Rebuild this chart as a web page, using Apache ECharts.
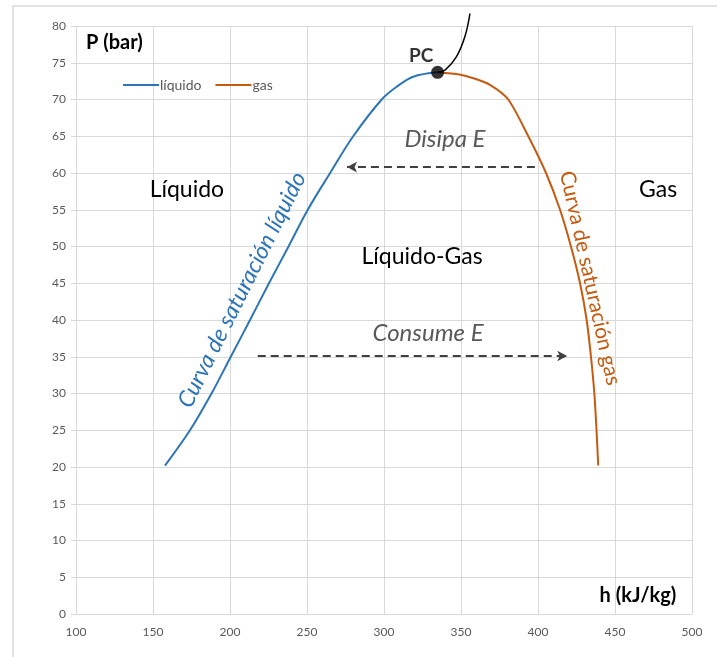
<!DOCTYPE html>
<html>
<head>
<meta charset="utf-8">
<script src="https://cdn.jsdelivr.net/npm/echarts@6/dist/echarts.min.js"></script>
<style>
  html, body { margin: 0; padding: 0; background: #fff; }
  #chart { width: 717px; height: 657px; }
</style>
</head>
<body>
<div id="chart"></div>
<script>
// Saturation dome of a refrigerant on the P-h diagram
const xTicks = [100, 150, 200, 250, 300, 350, 400, 450, 500];
const yTicks = [0, 5, 10, 15, 20, 25, 30, 35, 40, 45, 50, 55, 60, 65, 70, 75, 80];

// Saturated liquid line: [h (kJ/kg), P (bar)]
const liquidCurve = [
  [157.8, 20.2], [174, 25], [188, 30], [200.5, 35], [213, 40], [225.3, 45],
  [238, 50], [250.5, 55], [265, 60], [280, 65], [298.5, 70],
  [308, 71.7], [319, 73.1], [334.8, 73.7]
];

// Saturated vapour line: [h (kJ/kg), P (bar)]
const gasCurve = [
  [334.8, 73.7], [349, 73.4], [358, 72.9], [368.8, 72], [380.7, 70],
  [393.7, 65], [405.2, 60], [414.3, 55], [421.4, 50], [427.3, 45],
  [431.6, 40], [434.4, 35], [436.6, 30], [438, 25], [439.1, 20.2]
];

// Line leaving the critical point upwards
const criticalLine = [[334.8, 73.7], [339.6, 74.0], [347, 75.8], [352.6, 78.6], [355.8, 81.7]];

const criticalPoint = [334.8, 73.7];

// Energy arrows: [start, end]
const dissipateArrow = [[398, 60.8], [276, 60.8]];
const consumeArrow = [[218, 35.1], [419, 35.1]];

const FONT = 'Lato, "Open Sans", sans-serif';
const BLUE = '#2e75b6';
const ORANGE = '#c55a11';
const GRID = '#d9d9d9';
const LABEL = '#595959';

const chart = echarts.init(document.getElementById('chart'), null, { renderer: 'canvas' });

const arrowLine = (pts) => ({
  silent: true,
  symbol: ['none', 'arrow'],
  symbolSize: [8, 10],
  label: { show: false },
  lineStyle: { color: '#404040', width: 2, type: [8, 5] },
  data: [[{ coord: pts[0] }, { coord: pts[1] }]]
});

chart.setOption({
  animation: false,
  backgroundColor: '#fff',
  grid: { left: 76, right: 25, top: 26, bottom: 43 },
  legend: {
    left: 118, top: 73,
    itemWidth: 36, itemHeight: 2, itemGap: 14,
    icon: 'rect',
    textStyle: { fontFamily: FONT, fontSize: 14, color: LABEL, padding: [0, 0, 0, -4] },
    data: ['líquido', 'gas']
  },
  xAxis: {
    type: 'value', min: 100, max: 500, interval: 50,
    axisLine: { show: true, lineStyle: { color: GRID } },
    axisTick: { show: false },
    axisLabel: { color: LABEL, fontFamily: FONT, fontSize: 12, margin: 12 },
    splitLine: { show: true, lineStyle: { color: GRID, width: 1 } }
  },
  yAxis: {
    type: 'value', min: 0, max: 80, interval: 5,
    axisLine: { show: true, lineStyle: { color: GRID } },
    axisTick: { show: true, length: 5, lineStyle: { color: GRID } },
    axisLabel: { color: LABEL, fontFamily: FONT, fontSize: 12, margin: 10 },
    splitLine: { show: true, lineStyle: { color: GRID, width: 1 } }
  },
  series: [
    {
      name: 'líquido', type: 'line', data: liquidCurve, smooth: 0.35,
      showSymbol: false, color: BLUE, lineStyle: { width: 2, color: BLUE },
      markLine: arrowLine(consumeArrow)
    },
    {
      name: 'gas', type: 'line', data: gasCurve, smooth: 0.25,
      showSymbol: false, color: ORANGE, lineStyle: { width: 2, color: ORANGE },
      markLine: arrowLine(dissipateArrow)
    },
    {
      name: 'crítica', type: 'line', data: criticalLine, smooth: 0.4, clip: false,
      showSymbol: false, lineStyle: { width: 1.5, color: '#000' }, z: 3
    },
    {
      name: 'PC', type: 'scatter', data: [criticalPoint], symbolSize: 13, z: 5,
      itemStyle: { color: '#000' },
      label: {
        show: true, formatter: 'PC', position: [-22, -19],
        fontFamily: FONT, fontWeight: 'bold', fontSize: 19, color: '#000'
      }
    }
  ]
});

// Region names and curve captions placed in data coordinates
const px = (h, p) => chart.convertToPixel({ gridIndex: 0 }, [h, p]);
const txt = (pos, text, style, extra) => Object.assign({
  type: 'text', x: pos[0], y: pos[1],
  style: Object.assign({ text, fontFamily: FONT, align: 'center', verticalAlign: 'middle' }, style),
  silent: true
}, extra || {});

const annotations = [
  txt(px(172, 57.7), 'Líquido', { fontSize: 23, fill: '#000' }),
  txt(px(478, 57.7), 'Gas', { fontSize: 23, fill: '#000' }),
  txt(px(324.7, 48.6), 'Líquido-Gas', { fontSize: 23, fill: '#000' }),
  txt(px(339.6, 64.6), 'Disipa E', { fontSize: 24, fontStyle: 'italic', fill: LABEL }),
  txt(px(328.6, 38.2), 'Consume E', { fontSize: 24, fontStyle: 'italic', fill: LABEL }),
  txt(px(207.8, 44.1), 'Curva de saturación líquido',
      { fontSize: 23, fontStyle: 'italic', fill: BLUE }, { rotation: 63.5 * Math.PI / 180 }),
  txt(px(433.8, 45.7), 'Curva de saturación gas',
      { fontSize: 21, fill: ORANGE }, { rotation: -77.5 * Math.PI / 180 }),
  txt(px(106.5, 77.8), 'P (bar)', { fontSize: 20, fontWeight: 'bold', fill: '#000', align: 'left' }),
  txt(px(440, 2.45), 'h (kJ/kg)', { fontSize: 20, fontWeight: 'bold', fill: '#000', align: 'left' }),
  {
    type: 'rect', silent: true, z: -10,
    shape: { x: 13, y: 6, width: 760, height: 700 },
    style: { fill: 'none', stroke: GRID, lineWidth: 1.5 }
  }
];

chart.setOption({ graphic: annotations });
</script>
</body>
</html>
